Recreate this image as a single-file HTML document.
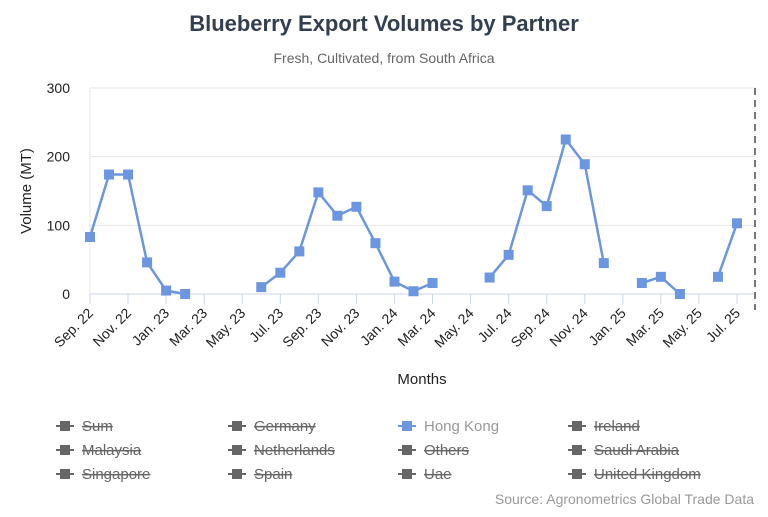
<!DOCTYPE html>
<html><head><meta charset="utf-8"><style>
body{margin:0;width:768px;height:512px;background:#fff;font-family:"Liberation Sans",sans-serif;overflow:hidden}
</style></head><body>
<svg width="768" height="512" font-family="Liberation Sans, sans-serif">
<text x="384" y="31" text-anchor="middle" font-size="22" font-weight="bold" fill="#333f50">Blueberry Export Volumes by Partner</text>
<text x="384" y="63" text-anchor="middle" font-size="14" fill="#666">Fresh, Cultivated, from South Africa</text>
<g id="grid"></g>
<g id="xaxis"></g>
<g id="yaxis"></g>
<line x1="755" y1="88" x2="755" y2="310" stroke="#777" stroke-width="2" stroke-dasharray="7,5"/>
<g id="series"></g>
<text x="31" y="191" transform="rotate(-90 31 191)" text-anchor="middle" font-size="15" fill="#222">Volume (MT)</text>
<text x="422" y="384" text-anchor="middle" font-size="15" fill="#222">Months</text>
<g id="legend"></g>
<text x="754" y="504" text-anchor="end" font-size="14" fill="#999">Source: Agronometrics Global Trade Data</text>
</svg>
<script>
const months=["Sep. 22","Oct. 22","Nov. 22","Dec. 22","Jan. 23","Feb. 23","Mar. 23","Apr. 23","May. 23","Jun. 23","Jul. 23","Aug. 23","Sep. 23","Oct. 23","Nov. 23","Dec. 23","Jan. 24","Feb. 24","Mar. 24","Apr. 24","May. 24","Jun. 24","Jul. 24","Aug. 24","Sep. 24","Oct. 24","Nov. 24","Dec. 24","Jan. 25","Feb. 25","Mar. 25","Apr. 25","May. 25","Jun. 25","Jul. 25"];
const hongKong=[83,174,174,46,5,0,null,null,null,10,31,62,148,114,127,74,18,4,16,null,null,24,57,151,128,225,189,45,null,16,25,0,null,25,103];
const yTicks=[0,100,200,300];
const legendNames=["Sum","Germany","Hong Kong","Ireland","Malaysia","Netherlands","Others","Saudi Arabia","Singapore","Spain","Uae","United Kingdom"];
const legendActive=["Hong Kong"];
const NS="http://www.w3.org/2000/svg";
const X0=90,X1=737,Y0=294,Y1=88,YMAX=300,PR=755;
function xs(i){return X0+(X1-X0)*i/(months.length-1);}
function ys(v){return Y0-(Y0-Y1)*v/YMAX;}
function mk(t,a,p){const e=document.createElementNS(NS,t);for(const k in a)e.setAttribute(k,a[k]);p.appendChild(e);return e;}
const grid=document.getElementById('grid'),yax=document.getElementById('yaxis'),xax=document.getElementById('xaxis');
yTicks.forEach(v=>{
 const l=mk('line',{x1:X0,x2:PR,y1:ys(v),y2:ys(v),stroke:v===0?'#ccd6eb':'#e6e6e6','stroke-width':1},grid);
 
 
 const t=mk('text',{x:70,y:ys(v)+5,'text-anchor':'end','font-size':14,fill:'#222'},yax);
 t.textContent=v;
 
 
});
const vl=mk('line',{x1:X0,x2:X0,y1:Y1,y2:Y0,stroke:'#e6e6e6'},grid);


months.forEach((m,i)=>{
 if(i%2)return;
 const x=xs(i);
 const tk=mk('line',{x1:x,x2:x,y1:Y0,y2:Y0+10,stroke:'#ccd6eb'},xax);
 
 
 const t=mk('text',{x:x+4,y:Y0+20,'text-anchor':'end','font-size':14,fill:'#222',transform:`rotate(-45 ${x+4} ${Y0+20})`},xax);
 t.textContent=m;
 
 
});
const ser=document.getElementById('series');
let seg=[];
function flush(){if(seg.length>1){const p=mk('polyline',{points:seg.join(' '),fill:'none',stroke:'#6c97e0','stroke-width':2.5},ser);}seg=[];}
hongKong.forEach((v,i)=>{if(v===null){flush();return;}seg.push(xs(i)+','+ys(v));});flush();
hongKong.forEach((v,i)=>{if(v===null)return;
 const r=mk('rect',{x:xs(i)-5,y:ys(v)-5,width:10,height:10,fill:'#6c97e0'},ser);
 
 
});
const lg=document.getElementById('legend');
legendNames.forEach((n,i)=>{
 const c=i%4,r=Math.floor(i/4);
 const x=[56,228,398,568][c],y=426+r*24;
 const on=legendActive.includes(n);
 const col=on?'#6c97e0':'#666';
 const g=mk('g',{},lg);
 
 
 mk('line',{x1:x,x2:x+18,y1:y,y2:y,stroke:col,'stroke-width':2},g);
 mk('rect',{x:x+4,y:y-5,width:10,height:10,fill:col},g);
 const t=mk('text',{x:x+26,y:y+5,'font-size':15,fill:on?'#999':'#666','text-decoration':on?'none':'line-through'},g);
 t.textContent=n;
});
</script>
</body></html>
